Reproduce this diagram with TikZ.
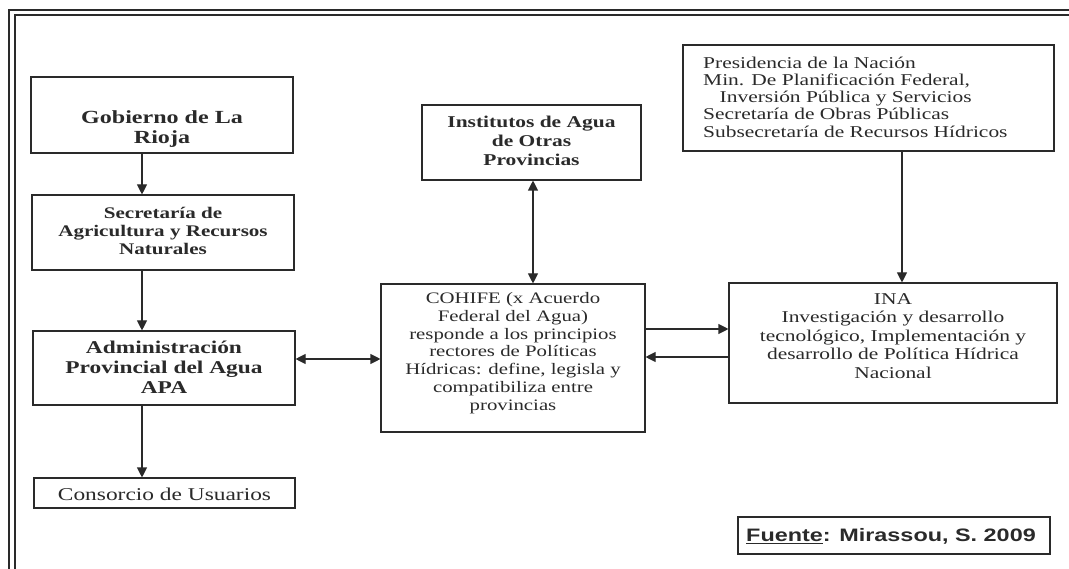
\documentclass[tikz,border=0pt]{standalone}
\usepackage{fontspec}
\setmainfont{Liberation Serif}[FakeStretch=1.3]
\newfontfamily\arialb{Liberation Sans}[FakeStretch=1.3]
\usetikzlibrary{arrows.meta,calc}
\definecolor{ink}{HTML}{2A2A2A}
\tikzset{
  box/.style={draw=ink, line width=1.1pt, inner sep=0pt},
  txt/.style={inner sep=0pt, align=center, text=ink},
  arr/.style={draw=ink, line width=1.1pt, -{Triangle[length=10pt,width=10pt]}},
  darr/.style={draw=ink, line width=1.1pt, {Triangle[length=10pt,width=10pt]}-{Triangle[length=10pt,width=10pt]}},
  frame/.style={draw=ink, line width=1.3pt}
}
\begin{document}
\begin{tikzpicture}[x=1pt,y=-1pt]
\useasboundingbox (0,0) rectangle (1069,569);
% outer double frame
\draw[frame] (9,569) -- (9,10) -- (1069,10);
\draw[frame] (15,569) -- (15,15) -- (1069,15);

% left column
\node[box, minimum width=262pt, minimum height=76pt] (gob) at (162,115) {};
\node[txt, font=\bfseries\fontsize{18.5}{19.5}\selectfont] (gobt) at (162,129) {Gobierno de La\\Rioja};

\node[box, minimum width=262pt, minimum height=75pt] (sec) at (163,232.5) {};
\node[txt, font=\bfseries\fontsize{16.2}{18}\selectfont] (sect) at (163,231) {Secretaría de\\Agricultura y Recursos\\Naturales};

\node[box, minimum width=262pt, minimum height=74pt] (apa) at (164,368) {};
\node[txt, font=\bfseries\fontsize{18}{20}\selectfont] (apat) at (164,367) {Administración\\Provincial del Agua\\APA};

\node[box, minimum width=261pt, minimum height=30pt] (cons) at (164.5,493) {};
\node[txt, font=\fontsize{18}{19}\selectfont] (const) at (164.5,494) {Consorcio de Usuarios};

% middle column
\node[box, minimum width=219pt, minimum height=75pt] (inst) at (531.5,142.5) {};
\node[txt, font=\bfseries\fontsize{16.5}{19}\selectfont] (instt) at (531.5,141) {Institutos de Agua\\de Otras\\Provincias};

\node[box, minimum width=264pt, minimum height=148pt] (coh) at (513,358) {};
\node[txt, font=\fontsize{16}{17.8}\selectfont] (coht) at (513,353) {COHIFE (x Acuerdo\\Federal del Agua)\\responde a los principios\\rectores de Políticas\\Hídricas: define, legisla y\\compatibiliza entre\\provincias};

% right column
\node[box, minimum width=371pt, minimum height=106pt] (pres) at (868.5,98) {};
\node[txt, align=left, anchor=west, font=\fontsize{16.5}{17.3}\selectfont] (prest) at (703,97) {Presidencia de la Nación\\Min. De Planificación Federal,\\\hspace*{1em}Inversión Pública y Servicios\\Secretaría de Obras Públicas\\Subsecretaría de Recursos Hídricos};

\node[box, minimum width=328pt, minimum height=120pt] (ina) at (893,343) {};
\node[txt, font=\fontsize{16.5}{18.5}\selectfont] (inat) at (893,336) {INA\\Investigación y desarrollo\\tecnológico, Implementación y\\desarrollo de Política Hídrica\\Nacional};

% source
\node[box, minimum width=312pt, minimum height=37pt] (fue) at (894,535.5) {};
\node[txt, font=\arialb\bfseries\fontsize{18}{19}\selectfont] (fuet) at (891,536) {\underline{Fuente}: Mirassou, S. 2009};

% connectors
\coordinate (cL) at (142,0);
\coordinate (cM) at (533,0);
\coordinate (cR) at (902,0);
\coordinate (r1) at (0,329);
\coordinate (r2) at (0,357);
\coordinate (r3) at (0,359);
\draw[arr] (gob.south -| cL) -- (sec.north -| cL);
\draw[arr] (sec.south -| cL) -- (apa.north -| cL);
\draw[arr] (apa.south -| cL) -- (cons.north -| cL);
\draw[darr] (apa.east |- r3) -- (coh.west |- r3);
\draw[darr] (inst.south -| cM) -- (coh.north -| cM);
\draw[arr] (coh.east |- r1) -- (ina.west |- r1);
\draw[arr] (ina.west |- r2) -- (coh.east |- r2);
\draw[arr] (pres.south -| cR) -- (ina.north -| cR);
\end{tikzpicture}
\end{document}
